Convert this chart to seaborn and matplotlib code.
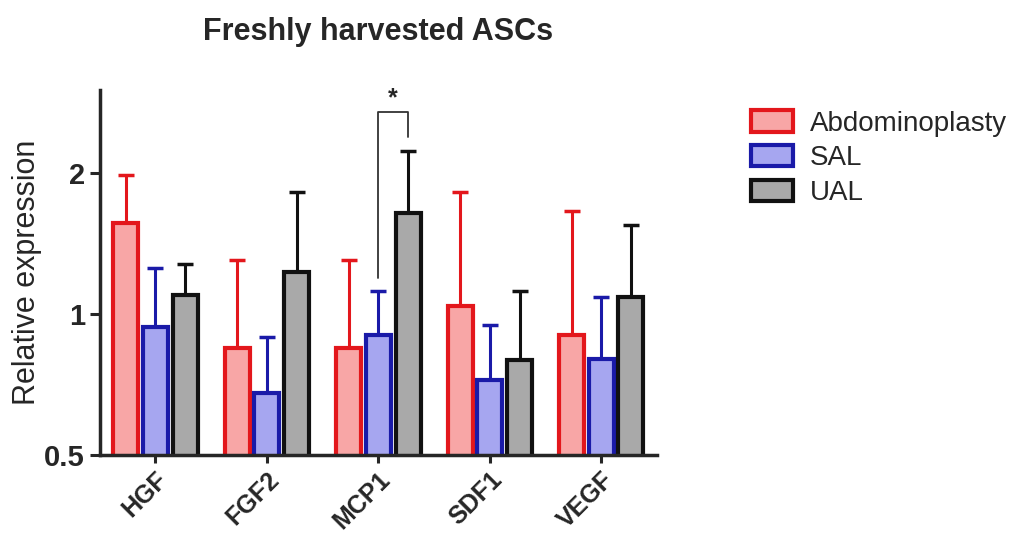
import pandas as pd
import seaborn as sns
import matplotlib.pyplot as plt

# values (relative expression, log2 axis)
genes = ['HGF', 'FGF2', 'MCP1', 'SDF1', 'VEGF']
groups = ['Abdominoplasty', 'SAL', 'UAL']
abdo_mean = [1.56, 0.846, 0.846, 1.04, 0.903]
abdo_err_top = [1.98, 1.30, 1.30, 1.82, 1.66]
sal_mean = [0.94, 0.679, 0.903, 0.724, 0.802]
sal_err_top = [1.25, 0.892, 1.119, 0.948, 1.086]
ual_mean = [1.10, 1.23, 1.64, 0.798, 1.086]
ual_err_top = [1.28, 1.815, 2.22, 1.117, 1.55]

fills = ['#f8a6a6', '#a6a6f0', '#a9a9a9']
edges = ['#e3171c', '#1a1aa8', '#111111']

rows = []
for g, means in zip(groups, [abdo_mean, sal_mean, ual_mean]):
    for gene, m in zip(genes, means):
        rows.append({'Gene': gene, 'Group': g, 'Expression': m})
df = pd.DataFrame(rows)

sns.set_style('ticks')
plt.rcParams['font.family'] = ['Liberation Sans', 'DejaVu Sans']

fig = plt.figure(figsize=(10.17, 5.33), dpi=100)
ax = fig.add_axes([0.098, 0.146, 0.548, 0.685])

sns.barplot(data=df, x='Gene', y='Expression', hue='Group', order=genes,
            hue_order=groups, palette=fills, saturation=1, width=0.8,
            gap=0.16, errorbar=None, ax=ax)
ax.set_yscale('log', base=2)

err_tops = [abdo_err_top, sal_err_top, ual_err_top]
bar_conts = list(ax.containers)
centers = {}
for i, cont in enumerate(bar_conts):
    for j, bar in enumerate(cont):
        bar.set_edgecolor(edges[i])
        bar.set_linewidth(3)
        bar.set_zorder(2)
        x = bar.get_x() + bar.get_width() / 2
        h = bar.get_height()
        centers[(i, j)] = x
        ax.errorbar(x, h, yerr=[[0], [err_tops[i][j] - h]], fmt='none',
                    ecolor=edges[i], elinewidth=2.2, capsize=5.5,
                    capthick=2.5, zorder=1)

# significance bracket SAL vs UAL in MCP1
x1 = centers[(1, 2)]
x2 = centers[(2, 2)]
ax.plot([x1, x1, x2, x2], [1.19, 2.69, 2.69, 2.38], color='#333333', lw=1.3,
        clip_on=False)
ax.text((x1 + x2) / 2, 2.72, '*', ha='center', va='bottom', fontsize=18,
        fontweight='bold')

ax.set_ylim(0.5, 3.0)
ax.set_xlim(-0.5, 4.5)
ax.set_yticks([0.5, 1, 2])
ax.set_yticklabels(['0.5', '1', '2'])
ax.minorticks_off()
ax.tick_params(axis='y', labelsize=21, width=2.2, length=7)
ax.tick_params(axis='x', labelsize=18, width=2.2, length=6, pad=3)
for lbl in ax.get_yticklabels() + ax.get_xticklabels():
    lbl.set_fontweight('bold')
plt.setp(ax.get_xticklabels(), rotation=45, ha='right', rotation_mode='anchor')

for s in ['left', 'bottom']:
    ax.spines[s].set_linewidth(2.5)
sns.despine(ax=ax)

ax.set_xlabel('')
ax.set_ylabel('Relative expression', fontsize=22, labelpad=2)
ax.set_title('Freshly harvested ASCs', fontsize=22, fontweight='bold', pad=36)

handles, labels = ax.get_legend_handles_labels()
for i, h in enumerate(handles):
    h.set_edgecolor(edges[i])
    h.set_linewidth(3)
ax.legend(handles, labels, loc='upper left', bbox_to_anchor=(0.714, 0.84),
          bbox_transform=fig.transFigure, frameon=False, fontsize=20,
          handlelength=1.5, handleheight=0.8, labelspacing=0.3,
          handletextpad=0.6)

plt.savefig('out.png', dpi=100)
